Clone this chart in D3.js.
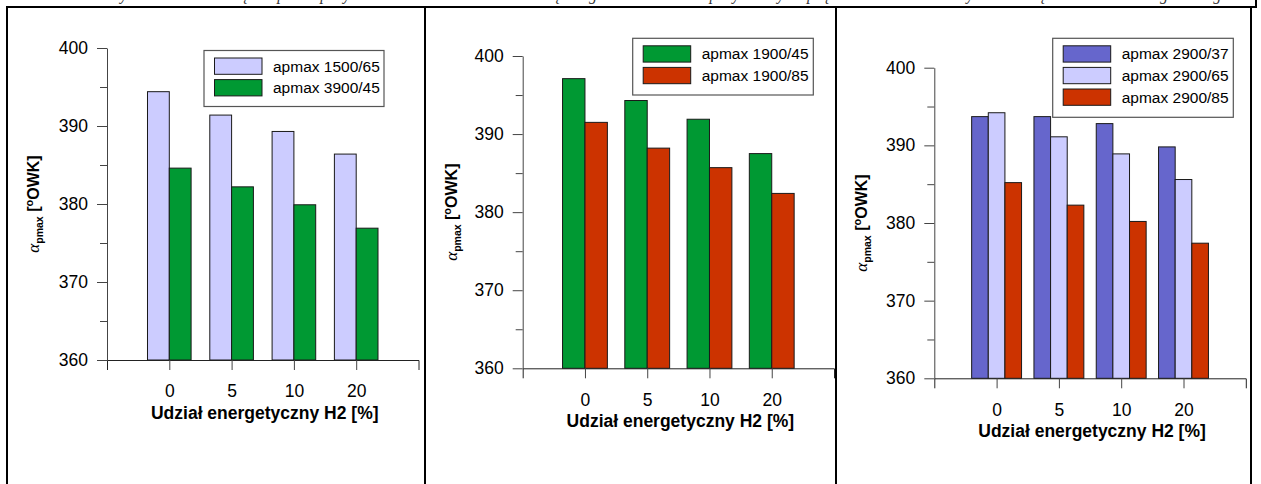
<!DOCTYPE html>
<html>
<head>
<meta charset="utf-8">
<script src="https://d3js.org/d3.v7.min.js"></script>
<title>Udział energetyczny H2 - alfa pmax</title>
<style>
  body { margin: 0; background: #fff; }
  svg { display: block; }
  .tick text { font-family: Arial, "Liberation Sans", sans-serif; }
</style>
</head>
<body>
<div id="chart"></div>
<script>
// categories on the x axis (H2 energy share, %)
const categories = ["0", "5", "10", "20"];

// panel 1
const seriesNames1 = ["apmax 1500/65", "apmax 3900/45"];
const series1a = [394.4, 391.4, 389.3, 386.4];
const series1b = [384.6, 382.2, 379.9, 376.9];

// panel 2
const seriesNames2 = ["apmax 1900/45", "apmax 1900/85"];
const series2a = [397.1, 394.3, 391.9, 387.5];
const series2b = [391.5, 388.2, 385.7, 382.4];

// panel 3
const seriesNames3 = ["apmax 2900/37", "apmax 2900/65", "apmax 2900/85"];
const series3a = [393.7, 393.7, 392.8, 389.8];
const series3b = [394.2, 391.1, 388.9, 385.6];
const series3c = [385.2, 382.3, 380.2, 377.4];

const yMajorTicks = [360, 370, 380, 390, 400];
const yMinorTicks = [365, 375, 385, 395];
const yDomain = [360, 400];

const xTitle = "Udział energetyczny H2 [%]";
const caption = "Rys. 6. Wartości kąta αpmax przy zasilaniu silnika mieszaniną biogazu z wodorem przy różnych prędkościach obrotowych i obciążeniach silnika gazowego";

const LAV = "#ccccff", GREEN = "#009933", RED = "#cc3300", BLUE = "#6666cc";

const W = 1261, H = 484;
const svg = d3.select("#chart").append("svg")
  .attr("width", W).attr("height", H);

// caption, mostly cut by the top of the picture (as in the source)
svg.append("text")
  .attr("x", 670).attr("y", 0)
  .attr("text-anchor", "middle")
  .attr("font-family", "'Liberation Serif', 'Times New Roman', serif")
  .attr("font-style", "italic")
  .attr("font-size", 16)
  .attr("textLength", 1120)
  .attr("lengthAdjust", "spacing")
  .attr("fill", "#333")
  .text(caption);

// table frame
const frame = svg.append("g").attr("stroke", "#000").attr("stroke-width", 2).attr("fill", "none");
frame.append("line").attr("x1", 6).attr("x2", 1257).attr("y1", 7).attr("y2", 7);
frame.append("line").attr("x1", 1256).attr("x2", 1256).attr("y1", 0).attr("y2", 7);
[7, 425, 836, 1251].forEach(function (x) {
  frame.append("line").attr("x1", x).attr("x2", x).attr("y1", 7).attr("y2", H);
});

// one bar chart panel
function drawPanel(p) {
  const g = svg.append("g");

  const y = d3.scaleLinear().domain(yDomain).range([p.y0, p.y1]);
  const x = d3.scalePoint().domain(categories).range([p.x0, p.x1]).padding(1);
  const nS = p.names.length;
  const bw = x.step() * p.barRatio;
  const xs = d3.scaleBand().domain(d3.range(nS)).range([-nS * bw / 2, nS * bw / 2]);

  // bars
  p.values.forEach(function (vals, j) {
    g.append("g").selectAll("rect")
      .data(vals)
      .enter().append("rect")
      .attr("x", function (d, i) { return x(categories[i]) + xs(j); })
      .attr("y", function (d) { return y(d); })
      .attr("width", xs.bandwidth())
      .attr("height", function (d) { return y(yDomain[0]) - y(d); })
      .attr("fill", p.colors[j])
      .attr("stroke", "#1a1a1a")
      .attr("stroke-width", 1);
  });

  // y axis
  const yAxis = g.append("g")
    .attr("transform", "translate(" + p.x0 + ",0)")
    .call(d3.axisLeft(y).tickValues(yMajorTicks).tickSize(10).tickSizeOuter(0).tickPadding(9));
  yAxis.select(".domain").attr("stroke", "#444");
  yAxis.selectAll(".tick line").attr("stroke", "#444");
  yAxis.selectAll(".tick text").attr("font-size", 17.5).attr("fill", "#000");

  const yMinor = g.append("g")
    .attr("transform", "translate(" + p.x0 + ",0)")
    .call(d3.axisLeft(y).tickValues(yMinorTicks).tickSize(7).tickFormat(""));
  yMinor.select(".domain").remove();
  yMinor.selectAll(".tick line").attr("stroke", "#444");

  // x axis
  const xAxis = g.append("g")
    .attr("transform", "translate(0," + p.y0 + ")")
    .call(d3.axisBottom(x).tickSize(10).tickSizeOuter(10).tickPadding(15));
  xAxis.select(".domain").attr("stroke", "#222");
  xAxis.selectAll(".tick line").attr("stroke", "#444");
  xAxis.selectAll(".tick text").attr("font-size", 17.5).attr("fill", "#000");

  g.append("text")
    .attr("x", (p.x0 + p.x1) / 2 + 2)
    .attr("y", p.y0 + 59)
    .attr("text-anchor", "middle")
    .attr("font-family", "Arial, 'Liberation Sans', sans-serif")
    .attr("font-weight", "bold")
    .attr("font-size", 17.5)
    .text(xTitle);

  // y label: alpha_pmax [oOWK]
  const yl = g.append("text")
    .attr("transform", "translate(" + p.yLabelX + "," + ((p.y0 + p.y1) / 2) + ") rotate(-90)")
    .attr("text-anchor", "middle")
    .attr("font-family", "Arial, 'Liberation Sans', sans-serif")
    .attr("font-weight", "bold")
    .attr("font-size", 16);
  yl.append("tspan").attr("font-family", "'Liberation Serif', serif").attr("font-style", "italic")
    .attr("font-weight", "normal").attr("font-size", 17).text("α");
  yl.append("tspan").attr("font-size", 10.5).attr("dy", 4).text("pmax");
  yl.append("tspan").attr("dy", -4).text(" [");
  yl.append("tspan").attr("font-size", 11).attr("dy", -6).text("o");
  yl.append("tspan").attr("dy", 6).text("OWK]");

  // legend
  const L = p.legend;
  g.append("rect")
    .attr("x", L.x).attr("y", L.y)
    .attr("width", L.w).attr("height", L.h)
    .attr("fill", "#fff").attr("stroke", "#555").attr("stroke-width", 1.2);
  p.names.forEach(function (name, j) {
    const ry = L.y + 7.5 + j * 21.6;
    g.append("rect")
      .attr("x", L.x + 10.5).attr("y", ry)
      .attr("width", 47.5).attr("height", 16.3)
      .attr("fill", p.colors[j]).attr("stroke", "#1a1a1a").attr("stroke-width", 1);
    g.append("text")
      .attr("x", L.x + 69).attr("y", ry + 13.5)
      .attr("font-family", "Arial, 'Liberation Sans', sans-serif")
      .attr("font-size", 15.5)
      .text(name);
  });
}

drawPanel({
  x0: 107, x1: 418.5, y0: 360, y1: 48, barRatio: 0.35,
  names: seriesNames1, values: [series1a, series1b], colors: [LAV, GREEN],
  legend: { x: 204, y: 50.5, w: 180, h: 56 }, yLabelX: 39
});

drawPanel({
  x0: 522.7, x1: 834, y0: 368.3, y1: 56, barRatio: 0.36,
  names: seriesNames2, values: [series2a, series2b], colors: [GREEN, RED],
  legend: { x: 632.7, y: 38.3, w: 180.6, h: 56.7 }, yLabelX: 457
});

drawPanel({
  x0: 934.3, x1: 1245.8, y0: 378.3, y1: 67.7, barRatio: 0.267,
  names: seriesNames3, values: [series3a, series3b, series3c], colors: [BLUE, LAV, RED],
  legend: { x: 1052.7, y: 38.3, w: 180.6, h: 79 }, yLabelX: 867
});
</script>
</body>
</html>
